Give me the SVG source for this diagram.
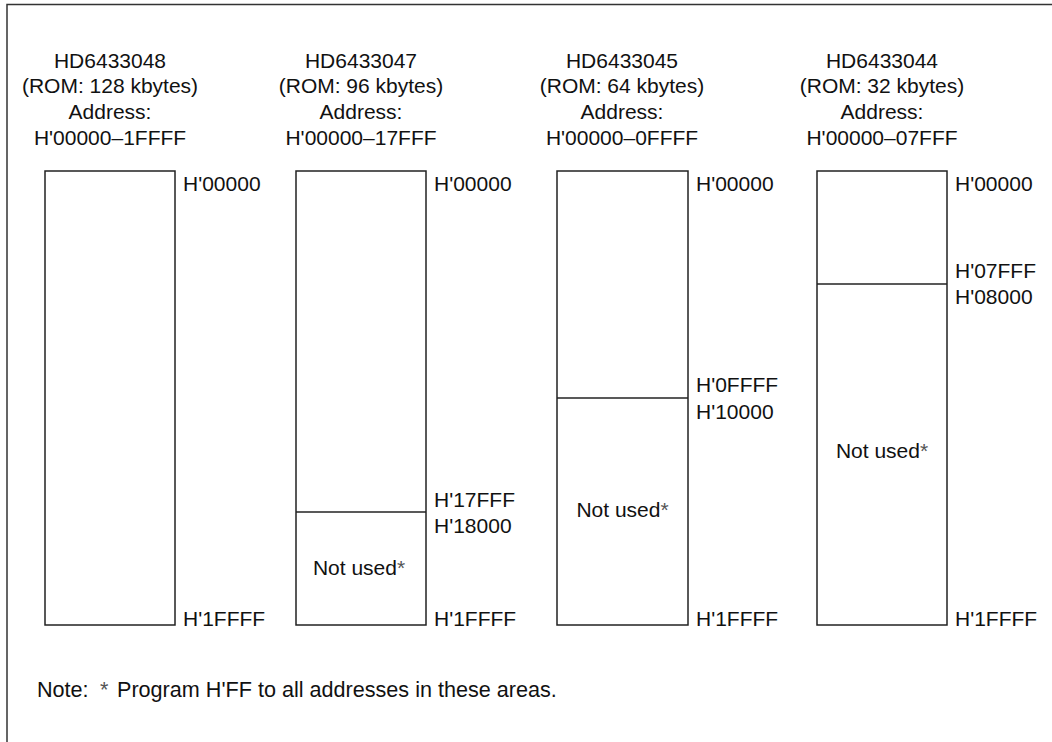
<svg xmlns="http://www.w3.org/2000/svg" width="1052" height="742" viewBox="0 0 1052 742">
<style>
text{font-family:"Liberation Sans",Arial,sans-serif;font-size:21px;fill:#111}
.c{text-anchor:middle}
.ast{fill:#555}
.note{font-size:21.6px}
.box{fill:#fff;stroke:#222;stroke-width:1.5}
.div{stroke:#222;stroke-width:1.5}
.frame{fill:none;stroke:#333;stroke-width:1.5}
</style>
<rect width="1052" height="742" fill="#fff"/>
<path class="frame" d="M7,742 V4.5 H1052"/>
<g id="col1">
<text class="c" x="110" y="68">HD6433048</text>
<text class="c" x="110" y="93">(ROM: 128 kbytes)</text>
<text class="c" x="110" y="119">Address:</text>
<text class="c" x="110" y="145">H'00000–1FFFF</text>
<rect class="box" x="45" y="171" width="130" height="454"/>
<text x="183" y="191">H'00000</text>
<text x="183" y="626">H'1FFFF</text>
</g>
<g id="col2">
<text class="c" x="361" y="68">HD6433047</text>
<text class="c" x="361" y="93">(ROM: 96 kbytes)</text>
<text class="c" x="361" y="119">Address:</text>
<text class="c" x="361" y="145">H'00000–17FFF</text>
<rect class="box" x="296" y="171" width="130" height="454"/>
<line class="div" x1="296" y1="512" x2="426" y2="512"/>
<text class="c" x="359" y="575">Not used<tspan class="ast">*</tspan></text>
<text x="434" y="191">H'00000</text>
<text x="434" y="507">H'17FFF</text>
<text x="434" y="533">H'18000</text>
<text x="434" y="626">H'1FFFF</text>
</g>
<g id="col3">
<text class="c" x="622" y="68">HD6433045</text>
<text class="c" x="622" y="93">(ROM: 64 kbytes)</text>
<text class="c" x="622" y="119">Address:</text>
<text class="c" x="622" y="145">H'00000–0FFFF</text>
<rect class="box" x="557" y="171" width="131" height="454"/>
<line class="div" x1="557" y1="398" x2="688" y2="398"/>
<text class="c" x="622.5" y="517">Not used<tspan class="ast">*</tspan></text>
<text x="696" y="191">H'00000</text>
<text x="696" y="392">H'0FFFF</text>
<text x="696" y="419">H'10000</text>
<text x="696" y="626">H'1FFFF</text>
</g>
<g id="col4">
<text class="c" x="882" y="68">HD6433044</text>
<text class="c" x="882" y="93">(ROM: 32 kbytes)</text>
<text class="c" x="882" y="119">Address:</text>
<text class="c" x="882" y="145">H'00000–07FFF</text>
<rect class="box" x="817" y="171" width="130" height="454"/>
<line class="div" x1="817" y1="284" x2="947" y2="284"/>
<text class="c" x="882" y="458">Not used<tspan class="ast">*</tspan></text>
<text x="955" y="191">H'00000</text>
<text x="955" y="278">H'07FFF</text>
<text x="955" y="304">H'08000</text>
<text x="955" y="626">H'1FFFF</text>
</g>
<g id="connectors"/>
<text id="note" class="note" y="697"><tspan x="37">Note:</tspan><tspan class="ast" x="100">*</tspan><tspan x="117">Program H'FF to all addresses in these areas.</tspan></text>
</svg>
